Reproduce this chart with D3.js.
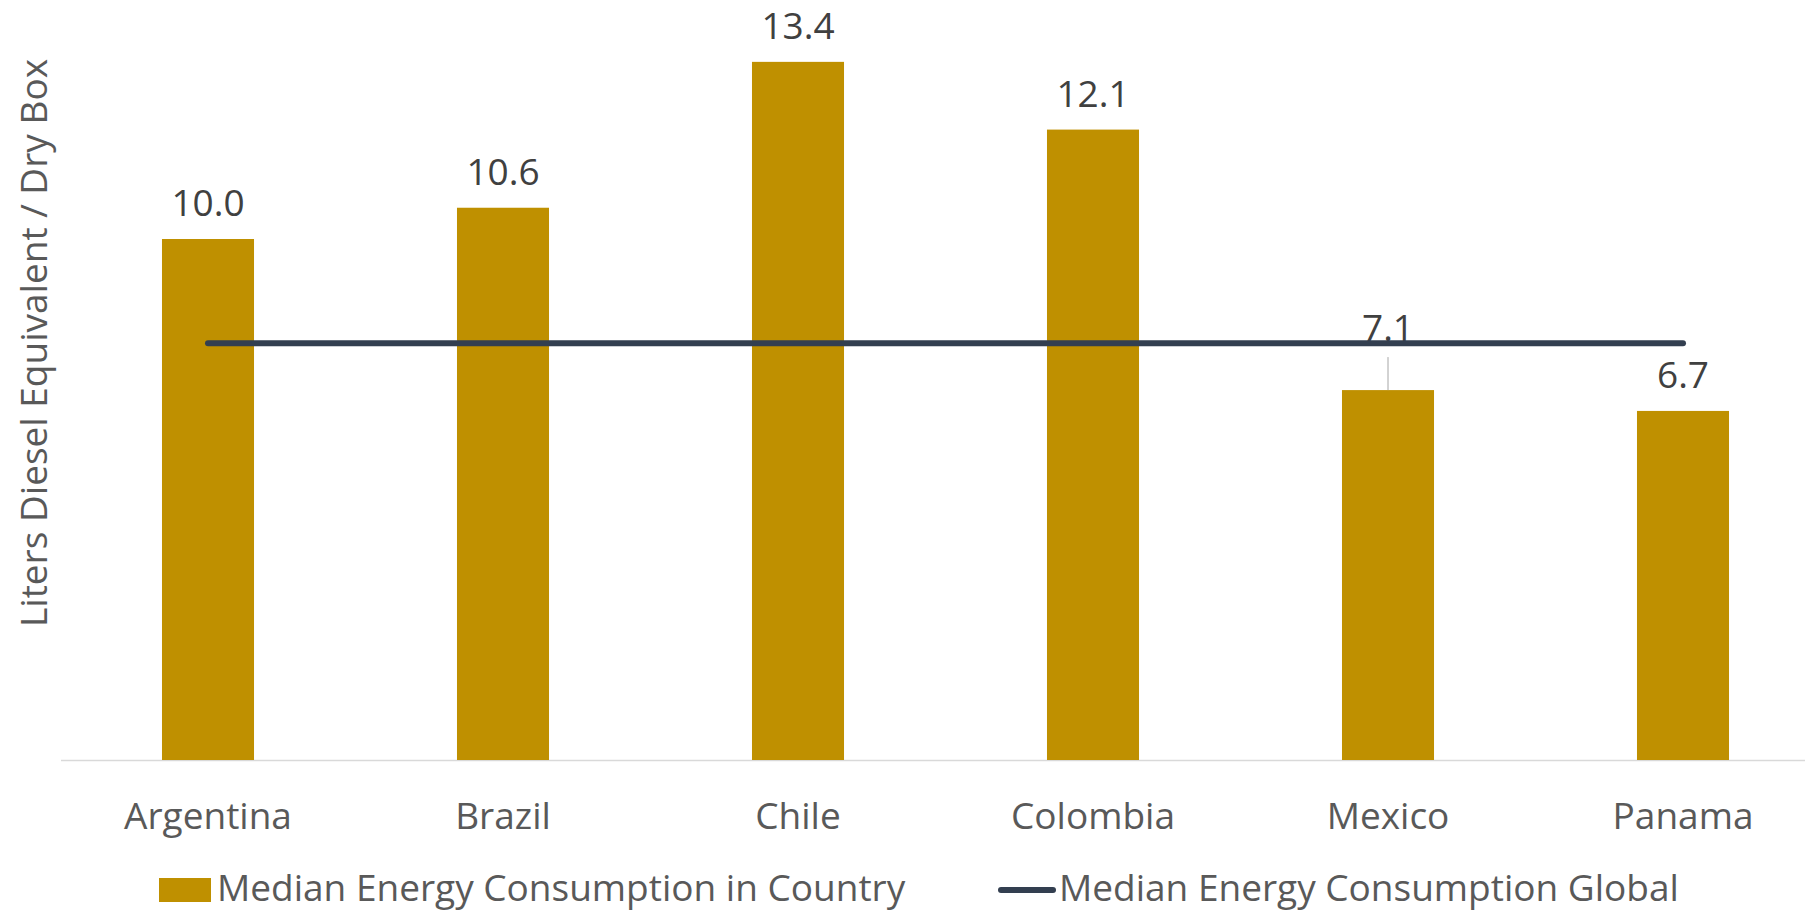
<!DOCTYPE html>
<html>
<head>
<meta charset="utf-8">
<script src="https://cdn.jsdelivr.net/npm/d3@7"></script>
<style>
  html, body { margin: 0; padding: 0; background: #ffffff; }
  svg { display: block; font-family: "Open Sans", "Noto Sans", sans-serif; }
</style>
</head>
<body>
<svg id="chart" width="1805" height="911"></svg>
<script>
// ---- data ----
const categories = ["Argentina", "Brazil", "Chile", "Colombia", "Mexico", "Panama"];
const countryMedian = [10.0, 10.6, 13.4, 12.1, 7.1, 6.7];
const globalMedian = [8.0, 8.0, 8.0, 8.0, 8.0, 8.0];
const seriesNames = ["Median Energy Consumption in Country", "Median Energy Consumption Global"];
const yAxisTitle = "Liters Diesel Equivalent / Dry Box";
const yDomain = [0, 14];

// ---- layout ----
const svg = d3.select("#chart");
const barColor = "#BF9000";
const lineColor = "#333F50";
const fontSize = 37;

const x = d3.scaleBand()
  .domain(categories)
  .range([60.5, 1830.5])
  .paddingInner(0.688)
  .paddingOuter(0.344);

const y = d3.scaleLinear().domain(yDomain).range([760, 30.6]);

// x axis
const xAxis = svg.append("g")
  .attr("transform", `translate(0,${y(0)})`)
  .call(d3.axisBottom(x).tickSize(0).tickSizeOuter(0).tickPadding(43));
xAxis.select(".domain").attr("stroke", "#D9D9D9").attr("stroke-width", 1.5);
xAxis.selectAll("text")
  .attr("font-family", "'Open Sans', sans-serif")
  .attr("font-size", fontSize)
  .attr("fill", "#595959");

// bars
svg.append("g").selectAll("rect")
  .data(categories)
  .join("rect")
  .attr("x", d => x(d))
  .attr("width", x.bandwidth())
  .attr("y", (d, i) => y(countryMedian[i]))
  .attr("height", (d, i) => y(0) - y(countryMedian[i]))
  .attr("fill", barColor);

// data labels
const lineY = y(globalMedian[0]);
const labels = svg.append("g");
categories.forEach((c, i) => {
  const cx = x(c) + x.bandwidth() / 2;
  const top = y(countryMedian[i]);
  let base = top - 23;
  // label would clash with the global line: push it up and add a leader line
  if (base > lineY - 6 && base - 30 < lineY + 6 && top > lineY) {
    base = top - 49;
    labels.append("line")
      .attr("x1", cx).attr("x2", cx)
      .attr("y1", base + 16).attr("y2", top)
      .attr("stroke", "#A6A6A6").attr("stroke-width", 1);
  }
  labels.append("text")
    .attr("x", cx)
    .attr("y", base)
    .attr("text-anchor", "middle")
    .attr("font-size", fontSize)
    .attr("fill", "#404040")
    .text(d3.format(".1f")(countryMedian[i]));
});

// global median line
const line = d3.line()
  .x((d, i) => x(categories[i]) + x.bandwidth() / 2)
  .y(d => y(d));
svg.append("path")
  .datum(globalMedian)
  .attr("d", line)
  .attr("fill", "none")
  .attr("stroke", lineColor)
  .attr("stroke-width", 6)
  .attr("stroke-linecap", "round");

// y axis title
svg.append("text")
  .attr("transform", "translate(47,343) rotate(-90)")
  .attr("text-anchor", "middle")
  .attr("font-size", fontSize)
  .attr("fill", "#595959")
  .text(yAxisTitle);

// legend
const legend = svg.append("g");
legend.append("rect")
  .attr("x", 159).attr("y", 878).attr("width", 52).attr("height", 24)
  .attr("fill", barColor);
legend.append("text")
  .attr("x", 217).attr("y", 901)
  .attr("font-size", fontSize).attr("fill", "#595959")
  .text(seriesNames[0]);
legend.append("line")
  .attr("x1", 1001).attr("x2", 1053).attr("y1", 890).attr("y2", 890)
  .attr("stroke", lineColor).attr("stroke-width", 6).attr("stroke-linecap", "round");
legend.append("text")
  .attr("x", 1059).attr("y", 901)
  .attr("font-size", fontSize).attr("fill", "#595959")
  .text(seriesNames[1]);
</script>
</body>
</html>
